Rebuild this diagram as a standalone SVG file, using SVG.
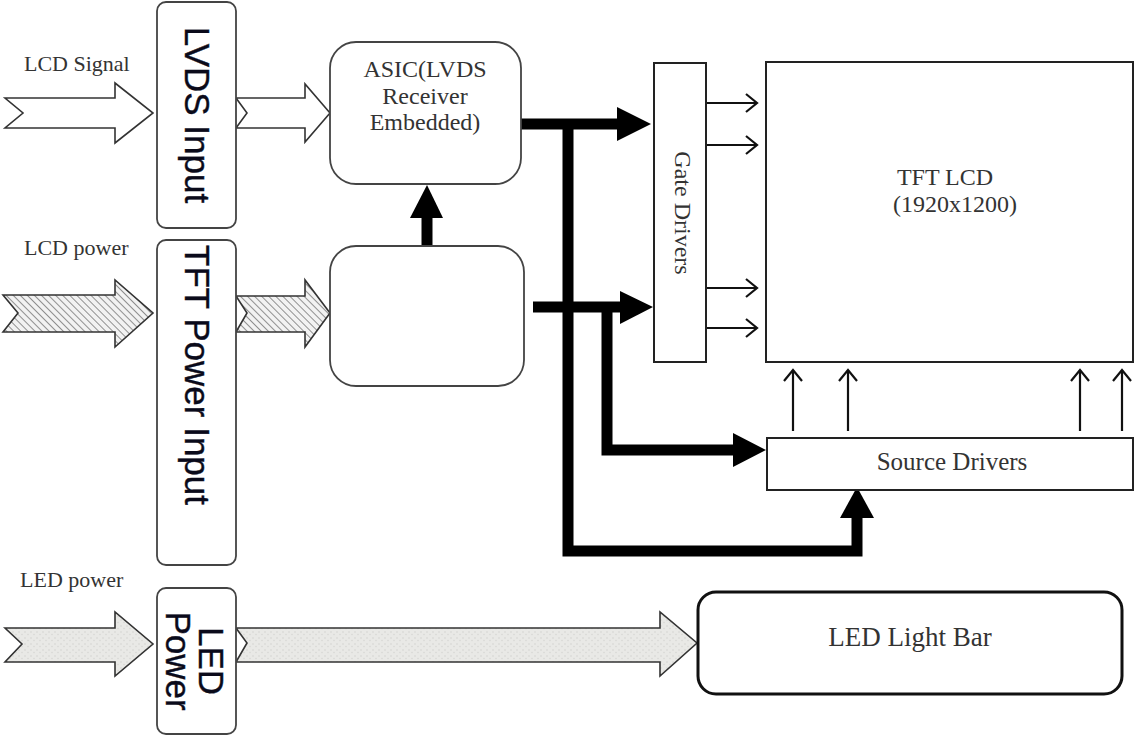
<svg xmlns="http://www.w3.org/2000/svg" width="1137" height="736" viewBox="0 0 1137 736">
<style>
.lbl{font-family:"Liberation Serif",serif;fill:#333}
.side{font-family:"Liberation Sans",sans-serif;font-size:35px;fill:#0a0a1a;stroke:#0a0a1a;stroke-width:0.4}
.rbox{fill:#fff;stroke:#444;stroke-width:1.8}
.box{fill:#fff;stroke:#222;stroke-width:2}
.blk{fill:#000;stroke:none}
.thick{stroke:#000;stroke-width:11;fill:none}
.thin{stroke:#111;stroke-width:2.2;fill:none}
.barrow{stroke:#333;stroke-width:1.6}
</style>
<defs>
<pattern id="hatch" width="5" height="5" patternUnits="userSpaceOnUse" patternTransform="rotate(-45)">
<rect width="5" height="5" fill="#f2f2f2"/>
<line x1="0" y1="0" x2="0" y2="5" stroke="#777" stroke-width="1.6"/>
</pattern>
<pattern id="speck" width="6" height="6" patternUnits="userSpaceOnUse">
<rect width="6" height="6" fill="#e9e9e6"/>
<circle cx="1" cy="2" r="0.7" fill="#cfcfcb"/>
<circle cx="4" cy="4.5" r="0.7" fill="#d4d4d0"/>
</pattern>
<marker id="chev" markerWidth="22" markerHeight="22" refX="18" refY="11" orient="auto" markerUnits="userSpaceOnUse">
<path d="M7,2 L18,11 L7,20" fill="none" stroke="#111" stroke-width="2.2"/>
</marker>
</defs>

<g id="labels">
<text class="lbl" x="24" y="71" font-size="22">LCD Signal</text>
<text class="lbl" x="24" y="255" font-size="22">LCD power</text>
<text class="lbl" x="20" y="587" font-size="22">LED power</text>
</g>

<g id="connectors">
<path class="barrow" fill="#fff" d="M5,98 L115,98 L115,83 L153,113 L115,143 L115,128 L5,128 L23,113 Z"/>
<path class="barrow" fill="#fff" d="M236,98 L305,98 L305,84 L330,113 L305,142 L305,128 L236,128 L247,113 Z"/>
<path class="barrow" fill="url(#hatch)" d="M3,295 L115,295 L115,280 L153,313 L115,347 L115,332 L3,332 L18,313 Z"/>
<path class="barrow" fill="url(#hatch)" d="M236,296 L305,296 L305,280 L330,313 L305,347 L305,332 L236,332 L247,313 Z"/>
<path class="barrow" fill="url(#speck)" d="M5,628 L115,628 L115,612 L153,644 L115,676 L115,662 L5,662 L22,644 Z"/>
<path class="barrow" fill="url(#speck)" d="M236,628 L660,628 L660,612 L697,643 L660,676 L660,662 L236,662 L247,643 Z"/>

<line class="thick" x1="427" y1="246" x2="427" y2="214"/>
<polygon class="blk" points="410,218 443,218 427,185"/>

<polyline class="thick" points="521,124 620,124"/>
<polygon class="blk" points="617,107 651,124 617,141"/>

<polyline class="thick" points="568,124 568,551 857,551 857,514"/>
<polygon class="blk" points="840,518 874,518 857,487"/>

<polyline class="thick" points="533,307 622,307"/>
<polygon class="blk" points="620,291 653,307 620,324"/>

<polyline class="thick" points="607,307 607,450 736,450"/>
<polygon class="blk" points="733,433 766,450 733,467"/>

<line class="thin" x1="706" y1="103" x2="757" y2="103" marker-end="url(#chev)"/>
<line class="thin" x1="706" y1="145" x2="757" y2="145" marker-end="url(#chev)"/>
<line class="thin" x1="706" y1="288" x2="757" y2="288" marker-end="url(#chev)"/>
<line class="thin" x1="706" y1="328" x2="757" y2="328" marker-end="url(#chev)"/>

<line class="thin" x1="793" y1="431" x2="793" y2="370" marker-end="url(#chev)"/>
<line class="thin" x1="848" y1="431" x2="848" y2="370" marker-end="url(#chev)"/>
<line class="thin" x1="1080" y1="431" x2="1080" y2="370" marker-end="url(#chev)"/>
<line class="thin" x1="1122" y1="431" x2="1122" y2="370" marker-end="url(#chev)"/>
</g>

<g id="lvds-input">
<rect class="rbox" x="157" y="2" width="79" height="226" rx="9"/>
<text class="side" transform="translate(185,115) rotate(90)" text-anchor="middle">LVDS Input</text>
</g>

<g id="tft-power-input">
<rect class="rbox" x="157" y="240" width="79" height="325" rx="9"/>
<text class="side" transform="translate(185,245) rotate(90)">TFT Power Input</text>
</g>

<g id="led-power">
<rect class="rbox" x="157" y="588" width="79" height="146" rx="9"/>
<text class="side" transform="translate(199,661) rotate(90)" text-anchor="middle">LED</text>
<text class="side" transform="translate(166,661) rotate(90)" text-anchor="middle">Power</text>
</g>

<g id="asic">
<rect class="rbox" x="330" y="42" width="191" height="142" rx="26"/>
<text class="lbl" font-size="24" text-anchor="middle"><tspan x="425" y="77">ASIC(LVDS</tspan><tspan x="425" y="104">Receiver</tspan><tspan x="425" y="130">Embedded)</tspan></text>
</g>

<g id="power-block">
<rect class="rbox" x="330" y="246" width="194" height="140" rx="26"/>
</g>

<g id="gate-drivers">
<rect class="box" x="654" y="63" width="52" height="299"/>
<text class="lbl" font-size="24" transform="translate(675,213) rotate(90)" text-anchor="middle">Gate Drivers</text>
</g>

<g id="tft-lcd">
<rect class="box" x="766" y="62" width="367" height="300" stroke-width="2.5"/>
<text class="lbl" font-size="24" text-anchor="middle"><tspan x="945" y="185">TFT LCD</tspan><tspan x="955" y="212">(1920x1200)</tspan></text>
</g>

<g id="source-drivers">
<rect class="box" x="767" y="438" width="366" height="52"/>
<text class="lbl" font-size="25" x="952" y="470" text-anchor="middle">Source Drivers</text>
</g>

<g id="led-light-bar">
<rect x="698" y="592" width="424" height="102" rx="18" fill="#fff" stroke="#111" stroke-width="3"/>
<text class="lbl" font-size="27" x="910" y="646" text-anchor="middle">LED Light Bar</text>
</g>
</svg>
